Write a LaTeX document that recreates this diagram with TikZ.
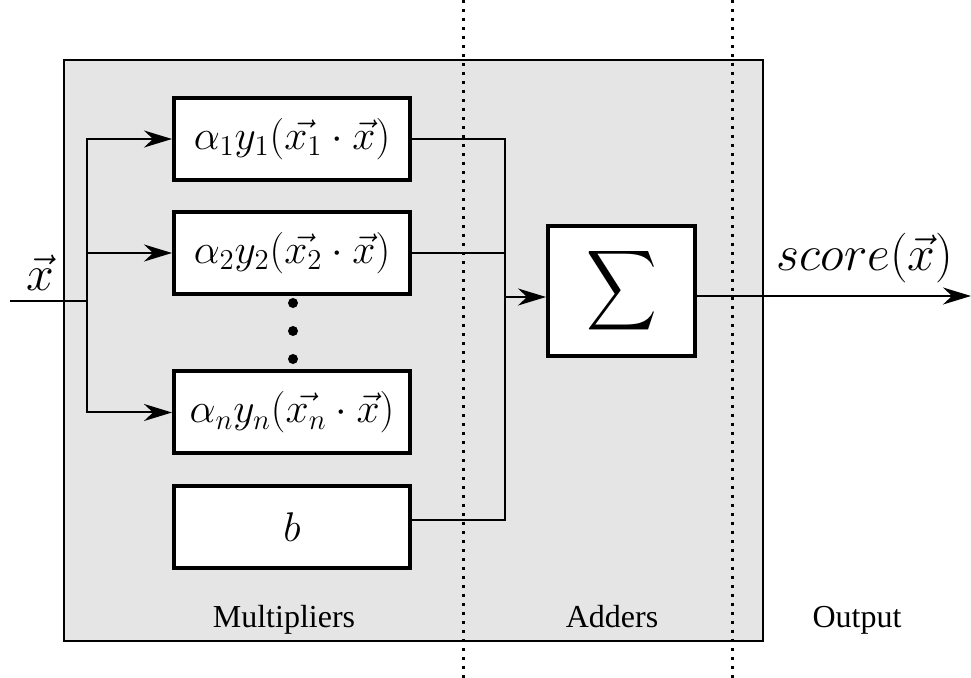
\documentclass[tikz,border=0pt]{standalone}
\usepackage{amsmath,amssymb}
\usepackage[no-math]{fontspec}
\newfontfamily\labelfont{Liberation Serif}
\usetikzlibrary{calc,arrows.meta}

\begin{document}
\begin{tikzpicture}[x=0.5pt,y=-0.5pt,
  mult/.style={draw, line width=2pt, fill=white, minimum width=118pt, minimum height=41pt, inner sep=0pt, font=\huge},
  sumbox/.style={draw, line width=2pt, fill=white, minimum width=73.5pt, minimum height=65pt, inner sep=0pt},
  wire/.style={line width=1pt},
  arr/.style={wire, -{Stealth[length=14pt,width=8.5pt,inset=4.5pt]}},
  sep/.style={line width=1.5pt, dash pattern=on 1.5pt off 3pt},
  dot/.style={circle, fill, inner sep=0pt, minimum size=5pt},
  region/.style={anchor=base, font=\labelfont\fontsize{16}{19}\selectfont}]
\useasboundingbox (0,0) rectangle (971,678);
\draw[fill=gray!20, line width=1pt] (64,60) rectangle (763,641);
\draw[sep] (463,0) -- (463,678);
\draw[sep] (732,0) -- (732,678);
% multipliers
\node[mult] (m1) at (292,139) {$\alpha_1y_1(\vec{x_1}\cdot\vec{x})$};
\node[mult] (m2) at (292,253) {$\alpha_2y_2(\vec{x_2}\cdot\vec{x})$};
\node[mult] (mn) at (292,412.5) {$\alpha_ny_n(\vec{x_n}\cdot\vec{x})$};
\node[mult] (bb) at (292,527) {$b$};
\node[dot] (d1) at (293,303) {}; \node[dot] (d2) at (293,331) {}; \node[dot] (d3) at (293,359) {};
% adder
\node[sumbox] (sum) at (621.5,291) {\scalebox{2.45}[2.8]{$\displaystyle\sum$}};
% input
\coordinate (in) at (10,301); \coordinate (split) at (87,301);
\node[font=\Huge] (xin) at (40,273) {$\vec{x}$};
\draw[wire] (in) -- (split);
\draw[arr] (split) |- (m1.west);
\draw[arr] (split) |- (m2.west);
\draw[arr] (split) |- (mn.west);
% sum of products
\coordinate (join) at (505,297);
\draw[wire] (m1.east) -| (join);
\draw[wire] (m2.east) -- (m2.east -| join);
\draw[wire] ($(mn.east)+(0,9)$) -- ($(mn.east)+(0,9)$ -| join);
\draw[wire] ($(bb.east)+(0,-7)$) -| (join);
\draw[arr] (join) -- (join -| sum.west);
% output
\coordinate (out) at (971,296);
\draw[arr] (sum.east |- out) -- (out);
\node[font=\Huge] (score) at (865,258) {$score(\vec{x})$};
% regions
\node[region] (lmult) at (284,628) {Multipliers};
\node[region] (ladd) at (612,628) {Adders};
\node[region] (lout) at (857,628) {Output};
\end{tikzpicture}
\end{document}
